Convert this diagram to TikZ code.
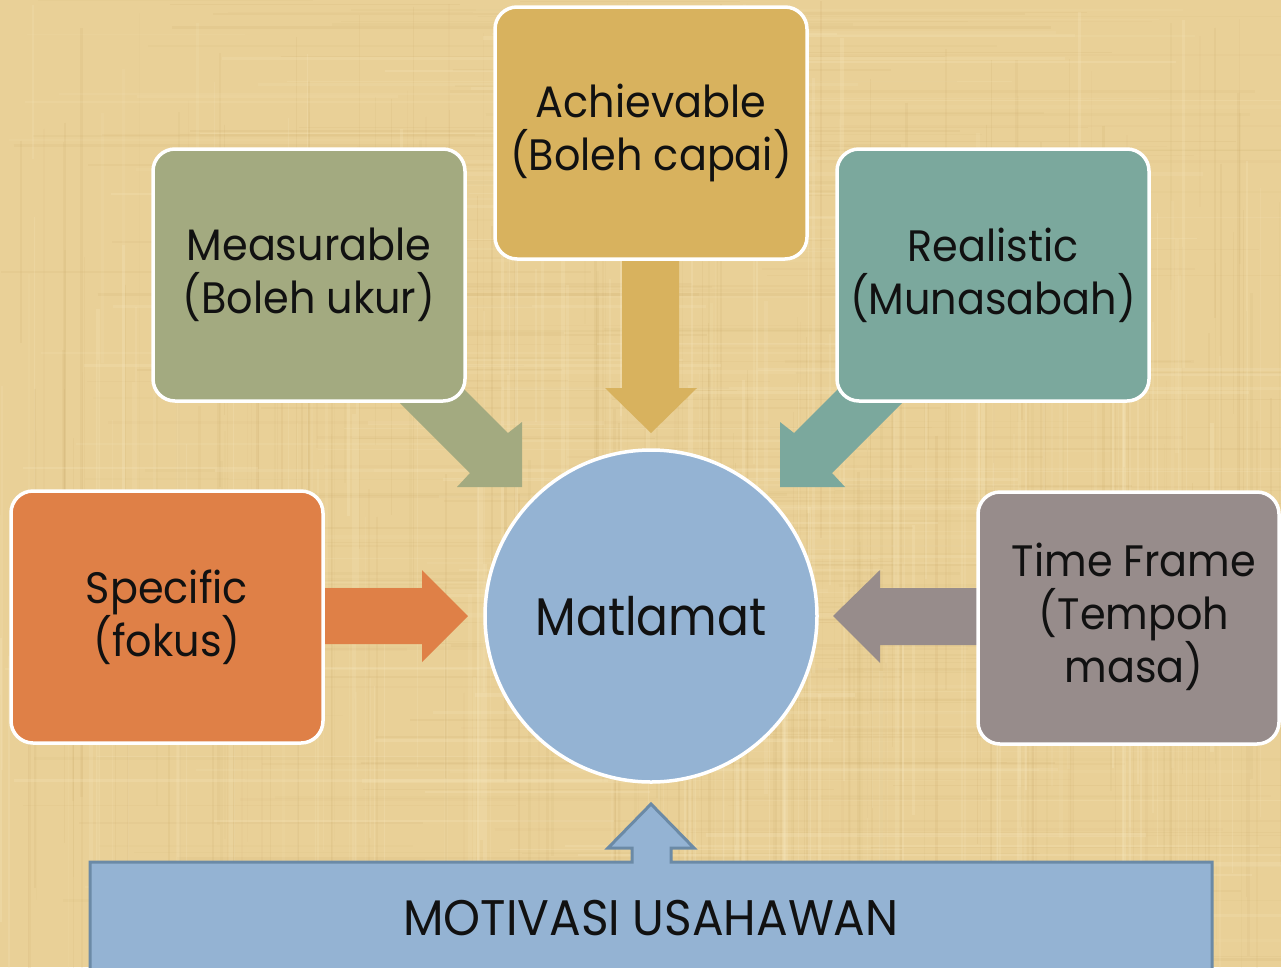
\documentclass[tikz,border=0pt]{standalone}
\usepackage{fontspec}
\newfontfamily\gothic[FakeStretch=0.94]{Poppins}
\newfontfamily\gothicnarrow[FakeStretch=0.89]{Poppins}
\definecolor{paper}{HTML}{E9D097}
\definecolor{paperdark}{HTML}{C9A867}
\definecolor{paperlight}{HTML}{F8E9C0}
\definecolor{olive}{HTML}{A3AA80}
\definecolor{gold}{HTML}{D8B25E}
\definecolor{teal}{HTML}{7BA89D}
\definecolor{orange}{HTML}{DF8047}
\definecolor{mauve}{HTML}{978C8B}
\definecolor{skyfill}{HTML}{94B3D3}
\definecolor{skyline}{HTML}{6B8AA6}
\definecolor{ink}{HTML}{111111}
\tikzset{
  card/.style={rounded corners=22pt, draw=white, line width=3.5pt,
    minimum width=312pt, minimum height=252pt, align=center, text=ink,
    font=\gothic\fontsize{44}{53}\selectfont},
  cardtext/.style={align=center, text=ink, font=\gothic\fontsize{44}{53}\selectfont},
  hub/.style={circle, draw=white, line width=3.5pt, fill=skyfill,
    minimum size=332pt, text=ink, font=\gothicnarrow\fontsize{53}{60}\selectfont}
}
\begin{document}
\begin{tikzpicture}[x=1pt,y=-1pt]
\useasboundingbox (0,0) rectangle (1281,967);
% papyrus background
\fill[paper] (0,0) rectangle (1281,967);
\pgfmathsetseed{17}
\foreach \i in {1,...,240}{
  \pgfmathsetmacro\xx{rnd*1281}
  \pgfmathsetmacro\ww{0.5+rnd*2.5}
  \pgfmathsetmacro\oo{0.04+rnd*0.12}
  \pgfmathsetmacro\ya{rnd*700}
  \pgfmathsetmacro\yb{\ya+150+rnd*500}
  \draw[paperdark, line width=\ww pt, opacity=\oo] (\xx,\ya) -- (\xx,\yb);
}
\foreach \i in {1,...,190}{
  \pgfmathsetmacro\yy{rnd*967}
  \pgfmathsetmacro\ww{0.5+rnd*2.5}
  \pgfmathsetmacro\oo{0.04+rnd*0.10}
  \pgfmathsetmacro\xa{rnd*900}
  \pgfmathsetmacro\xb{\xa+200+rnd*700}
  \draw[paperdark, line width=\ww pt, opacity=\oo] (\xa,\yy) -- (\xb,\yy);
}
\foreach \i in {1,...,170}{
  \pgfmathsetmacro\xx{rnd*1281}
  \pgfmathsetmacro\ww{0.8+rnd*3}
  \pgfmathsetmacro\oo{0.08+rnd*0.18}
  \pgfmathsetmacro\ya{rnd*700}
  \pgfmathsetmacro\yb{\ya+150+rnd*500}
  \draw[paperlight, line width=\ww pt, opacity=\oo] (\xx,\ya) -- (\xx,\yb);
}
\foreach \i in {1,...,130}{
  \pgfmathsetmacro\yy{rnd*967}
  \pgfmathsetmacro\ww{0.8+rnd*3}
  \pgfmathsetmacro\oo{0.08+rnd*0.16}
  \pgfmathsetmacro\xa{rnd*900}
  \pgfmathsetmacro\xb{\xa+200+rnd*700}
  \draw[paperlight, line width=\ww pt, opacity=\oo] (\xa,\yy) -- (\xb,\yy);
}

% block arrows pointing at the goal
\fill[olive] (347,350) -- (470,473) -- (457,487) -- (522,487) -- (522,422)
  -- (508,433) -- (420,345) -- cycle;
\fill[teal] (955,350) -- (832,473) -- (845,487) -- (780,487) -- (780,422)
  -- (794,433) -- (882,345) -- cycle;
\fill[gold] (622,240) -- (622,388) -- (605,388) -- (651,433) -- (697,388)
  -- (679,388) -- (679,240) -- cycle;
\fill[orange] (300,588) -- (422,588) -- (422,570) -- (468,616) -- (422,662)
  -- (422,644) -- (300,644) -- cycle;
\fill[mauve] (1000,588) -- (880,588) -- (880,570) -- (833,616) -- (880,663)
  -- (880,645) -- (1000,645) -- cycle;

% SMART cards
\node[card, fill=olive] (measurable) at (309,275) {Measurable\\(Boleh ukur)};
\node[card, fill=gold] (achievable) at (651,133) {Achievable\\(Boleh capai)};
\node[card, fill=teal] (realistic) at (993,275) {Realistic\\(Munasabah)};
\node[card, fill=orange] (specific) at (167,617) {Specific\\(fokus)};
\node[card, fill=mauve, minimum width=301pt] (timeframe) at (1128.5,618) {};
\node[cardtext] (timeframetext) at (1134,617) {Time Frame\\(Tempoh\\masa)};

% the goal
\node[hub] (goal) at (651,616) {Matlamat};

% motivation base with upward arrow
\filldraw[fill=skyfill, draw=skyline, line width=3pt]
  (90,975) -- (90,862) -- (632,862) -- (632,848) -- (608,848) -- (651,804)
  -- (694,848) -- (671,848) -- (671,862) -- (1212,862) -- (1212,975);
\node[text=ink, font=\gothic\fontsize{50}{56}\selectfont] (motivasi) at (651,918)
  {MOTIVASI USAHAWAN};
\end{tikzpicture}
\end{document}
